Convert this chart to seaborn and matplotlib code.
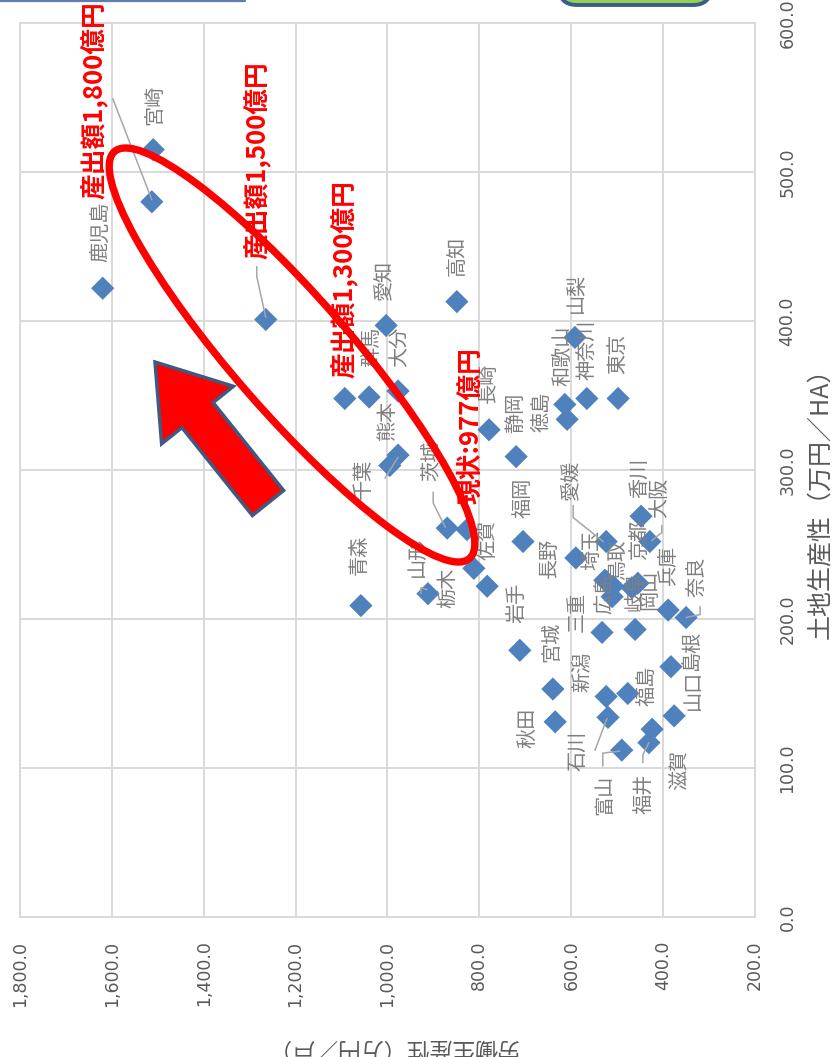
import matplotlib
matplotlib.use("Agg")
import matplotlib.pyplot as plt
import seaborn as sns
import pandas as pd
from matplotlib.patches import Ellipse, FancyArrow, FancyBboxPatch
from matplotlib.lines import Line2D
from matplotlib.transforms import IdentityTransform
from matplotlib.ticker import FuncFormatter

# ---- data: labour productivity (万円/戸) and land productivity (万円/ha) ----
prefectures = ["鹿児島", "宮崎", "愛知", "高知", "群馬", "大分", "千葉", "熊本", "茨城",
               "長崎", "静岡", "福岡", "佐賀", "栃木", "山形", "青森", "和歌山", "徳島",
               "神奈川", "東京", "山梨", "香川", "大阪", "愛媛", "長野", "埼玉", "鳥取",
               "広島", "京都", "岐阜", "岡山", "兵庫", "奈良", "三重", "岩手", "宮城",
               "秋田", "新潟", "福島", "島根", "山口", "滋賀", "福井", "石川", "富山"]
labor = [1620, 1510, 1003, 849, 1040, 977, 977, 995, 870,
         779, 720, 705, 812, 783, 912, 1058, 614, 609,
         566, 498, 592, 448, 429, 524, 590, 527, 509,
         511, 455, 468, 461, 389, 350, 533, 712, 640,
         635, 524, 477, 383, 376, 424, 431, 520, 490]
land = [422, 515, 397, 413, 349, 353, 310, 303, 261,
        327, 309, 252, 234, 222, 217, 209, 344, 334,
        348, 348, 389, 269, 252, 252, 241, 226, 222,
        215, 224, 221, 193, 206, 201, 191, 179, 153,
        131, 148, 150, 168, 135, 126, 117, 134, 112]

# output scenarios
target_labels = ["現状:977億円", "産出額1,300億円", "産出額1,500億円", "産出額1,800億円"]
target_labor = [827, 1093, 1265, 1513]
target_land = [260, 348, 401, 480]

labor_ticks = [200, 400, 600, 800, 1000, 1200, 1400, 1600, 1800]
land_ticks = [0, 100, 200, 300, 400, 500, 600]

# ---- label placement (pixel offsets from the marker: right, down) ----
label_offsets = {
    "鹿児島": (-1, -56), "宮崎": (2, -45), "愛知": (-1, -46), "高知": (0, -46),
    "群馬": (3, -50), "大分": (2, -44), "千葉": (-35, 24), "熊本": (-2, -46),
    "茨城": (-16, -67), "長崎": (-1, -47), "静岡": (-1, -44), "福岡": (0, -44),
    "佐賀": (14, -28), "栃木": (-39, 2), "山形": (-11, -37), "青森": (-2, -51),
    "和歌山": (-2, -49), "徳島": (-25, -7), "神奈川": (1, -49), "東京": (0, -45),
    "山梨": (1, -45), "香川": (-1, -38), "大阪": (10, -44), "愛媛": (-34, -62),
    "長野": (-26, 0), "埼玉": (-13, -30), "鳥取": (5, -26), "広島": (-7, -3),
    "京都": (2, -43), "岐阜": (3, 3), "岡山": (15, -40), "兵庫": (0, -45),
    "奈良": (11, -41), "三重": (-25, -21), "岩手": (-3, -47), "宮城": (-1, -47),
    "秋田": (-27, 6), "新潟": (-23, -25), "福島": (19, -8), "島根": (21, -16),
    "山口": (19, -26), "滋賀": (28, 41), "福井": (-4, 51), "石川": (-30, 34),
    "富山": (-17, 45),
}
leaders = {
    "千葉": [(-13, 23), (0, 2)],
    "茨城": [(-14, -36), (-14, -25), (-2, -1)],
    "山形": [(-7, 0), (-7, -6), (-1, -4)],
    "大阪": [(12, -16), (12, -9), (2, -1)],
    "愛媛": [(-33, -36), (-33, -24), (-3, 0)],
    "奈良": [(14, -11), (14, -3), (0, 0)],
    "石川": [(-13, 33), (-1, 1)],
    "富山": [(-19, 16), (-19, 3), (-2, 1)],
    "福井": [(-6, 20), (-6, 12), (0, 0)],
}
target_offsets = [(4, -104), (0, -119), (-8, -159), (-57, -102)]
target_leaders = {2: [(-9, -53), (-9, -43), (0, -2)],
                  3: [(-39, -103), (0, -2)]}

W, H = 837, 1057
sns.set_theme(style="white")
plt.rcParams["font.family"] = ["DejaVu Sans", "Noto Sans CJK JP"]
JP = ["Noto Sans CJK JP", "DejaVu Sans"]

fig = plt.figure(figsize=(W / 100, H / 100), dpi=100)
fig.patch.set_facecolor("white")
ax = fig.add_axes([20 / W, (H - 917) / H, 735 / W, 894 / H])

pts = pd.DataFrame({"name": prefectures, "labor": labor, "land": land})
tgt = pd.DataFrame({"name": target_labels, "labor": target_labor, "land": target_land})

blue = "#4F81BD"
sns.scatterplot(data=pts, x="labor", y="land", marker="D", s=140, color=blue,
                edgecolor="none", linewidth=0, ax=ax, zorder=3, legend=False)
sns.scatterplot(data=tgt, x="labor", y="land", marker="D", s=140, color=blue,
                edgecolor="none", linewidth=0, ax=ax, zorder=3, legend=False)

ax.set_xlim(1800, 200)
ax.set_ylim(0, 600)
ax.set_xticks(labor_ticks)
ax.set_yticks(land_ticks)
ax.set_xlabel("")
ax.set_ylabel("")
ax.grid(True, color="#D9D9D9", lw=1.4)
ax.set_axisbelow(True)
for sp in ax.spines.values():
    sp.set_color("#D9D9D9")
    sp.set_linewidth(1.4)

fmt = FuncFormatter(lambda v, p: f"{v:,.1f}")
ax.xaxis.set_major_formatter(fmt)
ax.yaxis.set_major_formatter(fmt)
ax.yaxis.tick_right()
ax.tick_params(axis="x", length=0, pad=17, labelsize=12.5, labelcolor="#595959",
               labelrotation=90)
ax.tick_params(axis="y", length=0, pad=17, labelsize=12.5, labelcolor="#595959",
               labelrotation=90)
for t in ax.get_yticklabels():
    t.set_va("center")

ident = IdentityTransform()


def draw_leader(x, y, offs):
    px, py = ax.transData.transform((x, y))
    xs = [px + dx for dx, dy in offs]
    ys = [py - dy for dx, dy in offs]
    fig.add_artist(Line2D(xs, ys, transform=ident, color="#A6A6A6", lw=1.1, zorder=4))


for name, x, y in zip(prefectures, labor, land):
    dx, dy = label_offsets[name]
    ax.annotate(name, (x, y), xytext=(dx, -dy), textcoords="offset pixels",
                rotation=90, ha="center", va="center", fontsize=14.5,
                color="#7F7F7F", family=JP, zorder=5)
    if name in leaders:
        draw_leader(x, y, leaders[name])

for i, (name, x, y) in enumerate(zip(target_labels, target_labor, target_land)):
    dx, dy = target_offsets[i]
    ax.annotate(name, (x, y), xytext=(dx, -dy), textcoords="offset pixels",
                rotation=90, ha="center", va="center", fontsize=18.5,
                fontweight="bold", color="#FF0000", family=JP, zorder=7)
    if i in target_leaders:
        draw_leader(x, y, target_leaders[i])

# red ellipse around the growth path
fig.add_artist(Ellipse((292, H - 355), 540, 116, angle=-48.9, transform=ident,
                       fill=False, edgecolor="#FF0000", lw=5.3, zorder=6))

# direction arrow
fig.add_artist(FancyArrow(268, H - 503, -113, 141, width=40, head_width=92,
                          head_length=68, length_includes_head=True,
                          transform=ident, facecolor="#FF0000",
                          edgecolor="#3E5A82", lw=2.5, zorder=6))

# axis titles
fig.text(820 / W, (H - 497) / H, "土地生産性（万円／HA）", rotation=90, ha="center",
         va="center", fontsize=18, color="#595959", family=JP)
fig.text(392 / W, (H - 1047) / H, "労働生産性（万円／戸）", rotation=180, ha="center",
         va="center", fontsize=16.5, color="#595959", family=JP)

# slide elements at the top edge
fig.add_artist(Line2D([0, 245], [H - 1, H - 1], transform=ident, color="#5B7DB1", lw=1.6))
fig.add_artist(FancyBboxPatch((559, H - 5), 152, 50,
                              boxstyle="round,pad=0,rounding_size=18",
                              transform=ident, facecolor="#92D050",
                              edgecolor="#385D8A", lw=2.8))

fig.savefig("out.png", dpi=100)
